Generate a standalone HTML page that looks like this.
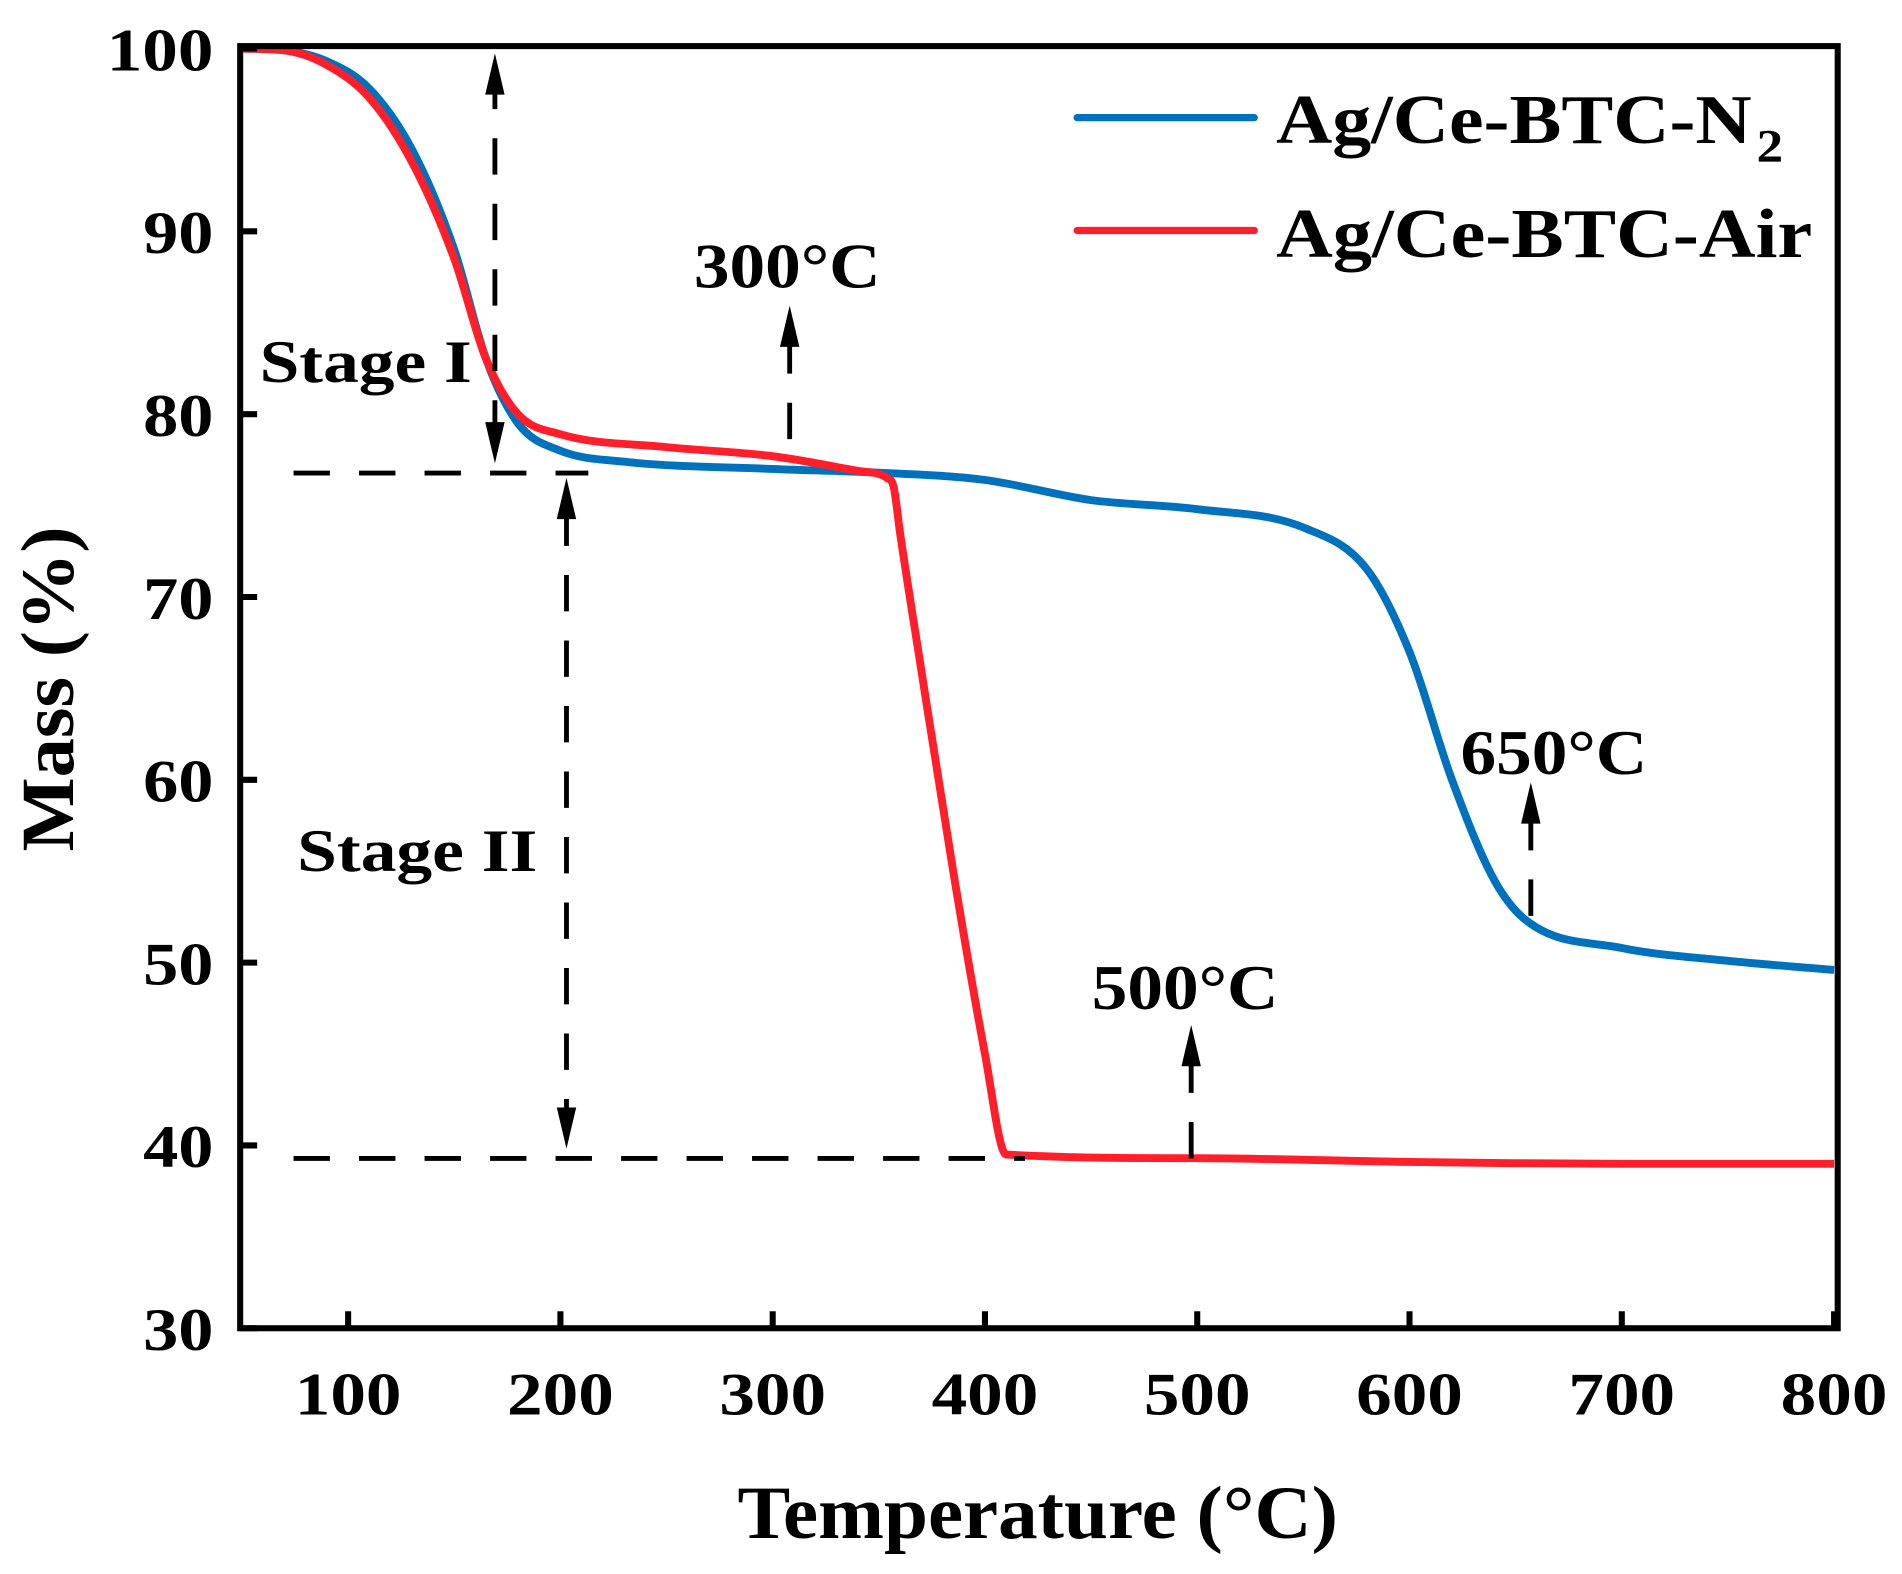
<!DOCTYPE html>
<html><head><meta charset="utf-8"><style>
html,body{margin:0;padding:0;background:#fff;}
svg{display:block;}
text{font-family:"Liberation Serif","Times New Roman",serif;font-weight:bold;fill:#000;}
</style></head><body>
<svg id="chart" width="1902" height="1574" viewBox="0 0 1568 1297.6" preserveAspectRatio="none" xmlns="http://www.w3.org/2000/svg">
<g id="plot"></g>
</svg>
<script>
const xTicks=[100,200,300,400,500,600,700,800];
const yTicks=[30,40,50,60,70,80,90,100];
const n2T=[50,70,90,110,130,150,165,180,200,230,300,350,400,450,500,550,580,600,620,640,655,700,750,800];
const n2M=[100,99.9,99.3,97.8,94.5,89,83,79.5,78,77.4,77,76.8,76.4,75.3,74.8,73.8,71.5,67,60,54.5,52.3,50.8,50.1,49.6];
const airT=[50,70,90,110,130,150,165,180,200,250,300,340,354,357,360,370,385,400,410,500,600,700,800];
const airM=[100,99.9,99.1,97.3,93.8,88.5,83,80,78.9,78.2,77.7,76.9,76.5,76.0,73.5,66,55,45,39.5,39.3,39.1,39.0,39.0];

const NS='http://www.w3.org/2000/svg';
const L=198,R=1515,T=38,B=1095;
function xs(v){return 287+(v-100)*1.75;}
function ys(v){return 1095-(v-30)*(1055/70);}
const g=document.getElementById('plot');
function el(tag,attrs,parent){const e=document.createElementNS(NS,tag);for(const k in attrs)e.setAttribute(k,attrs[k]);(parent||g).appendChild(e);return e;}

// monotone cubic path
function monoPath(px,py){
  const n=px.length,d=[],m=new Array(n);
  for(let i=0;i<n-1;i++)d.push((py[i+1]-py[i])/(px[i+1]-px[i]));
  m[0]=d[0];m[n-1]=d[n-2];
  for(let i=1;i<n-1;i++){m[i]=(d[i-1]*d[i]<=0)?0:(d[i-1]+d[i])/2;}
  for(let i=0;i<n-1;i++){
    if(d[i]===0){m[i]=0;m[i+1]=0;continue;}
    const a=m[i]/d[i],b=m[i+1]/d[i],s=a*a+b*b;
    if(s>9){const t=3/Math.sqrt(s);m[i]=t*a*d[i];m[i+1]=t*b*d[i];}
  }
  let p='M'+px[0].toFixed(1)+','+py[0].toFixed(1);
  for(let i=0;i<n-1;i++){
    const h=(px[i+1]-px[i])/3;
    p+=' C'+(px[i]+h).toFixed(1)+','+(py[i]+m[i]*h).toFixed(1)+' '+(px[i+1]-h).toFixed(1)+','+(py[i+1]-m[i+1]*h).toFixed(1)+' '+px[i+1].toFixed(1)+','+py[i+1].toFixed(1);
  }
  return p;
}
function drawLine(ts,ms,color,name){
  const p=el('path',{d:monoPath(ts.map(xs),ms.map(ys)),fill:'none',stroke:color,'stroke-width':6.5,'stroke-linejoin':'round'});
  
  
}
drawLine(n2T,n2M,'#0072BD','series-n2');
drawLine(airT,airM,'#FF1F2A','series-air');

const fr=el('rect',{x:L,y:T,width:R-L,height:B-T,fill:'none',stroke:'#000','stroke-width':5});



xTicks.forEach(v=>{
  const tk=el('line',{x1:xs(v),x2:xs(v),y1:B,y2:B-14,stroke:'#000','stroke-width':5});
  
  
  const t=el('text',{x:xs(v),y:1166,'font-size':50,'text-anchor':'middle',textLength:88,lengthAdjust:'spacingAndGlyphs'});
  t.textContent=v;
  
  
});
yTicks.forEach(v=>{
  const tk=el('line',{x1:L,x2:L+14,y1:ys(v),y2:ys(v),stroke:'#000','stroke-width':5});
  
  
  const t=el('text',{x:176,y:ys(v)+18,'font-size':50,'text-anchor':'end',textLength:v==100?88:58,lengthAdjust:'spacingAndGlyphs'});
  t.textContent=v;
  
  
});

function txt(s,x,y,size,name,len,extra){
  const t=el('text',Object.assign({x:x,y:y,'font-size':size},extra||{}));
  if(len){t.setAttribute('textLength',len);t.setAttribute('lengthAdjust','spacingAndGlyphs');}
  t.textContent=s;
  
  
  return t;
}
txt('Temperature (°C)',608,1268,62,'x-axis-title',495);
txt('Mass (%)',0,0,62,'y-axis-title',268,{transform:'translate(60,568) rotate(-90)','text-anchor':'middle'});

const l1=el('line',{x1:888,x2:1034,y1:97,y2:97,stroke:'#0072BD','stroke-width':6,'stroke-linecap':'round'});


const l2=el('line',{x1:888,x2:1034,y1:190,y2:190,stroke:'#FF1F2A','stroke-width':6,'stroke-linecap':'round'});


txt('Ag/Ce-BTC-N',1052,118,58,'legend-label-n2',392);
txt('2',1448,133,38,'legend-subscript',22);
txt('Ag/Ce-BTC-Air',1052,212,58,'legend-label-air',442);

function dash(x1,y1,x2,y2,name){
  const e=el('line',{x1:x1,y1:y1,x2:x2,y2:y2,stroke:'#000','stroke-width':4,'stroke-dasharray':'30,24'});
  
  
}
function head(x,y,dir,name){ // dir -1 = up tip at y, 1 = down tip at y
  const h=34,w=8;
  const e=el('polygon',{points:x+','+y+' '+(x-w)+','+(y-dir*h)+' '+(x+w)+','+(y-dir*h),fill:'#000'});
  
  
}
dash(242,390,485,390,'stage-i-level');
dash(242,955,845,955,'stage-ii-level');
dash(408,360,408,75,'stage-i-arrow');
head(408,44,-1,'stage-i-arrowhead-up');head(408,382,1,'stage-i-arrowhead-down');
dash(467,420,467,920,'stage-ii-arrow');
head(467,394,-1,'stage-ii-arrowhead-up');head(467,947,1,'stage-ii-arrowhead-down');
dash(651,362,651,280,'arrow-300');head(651,252,-1,'arrowhead-300');
dash(982,955,982,875,'arrow-500');head(982,845,-1,'arrowhead-500');
dash(1262,755,1262,675,'arrow-650');head(1262,645,-1,'arrowhead-650');
txt('Stage I',214,315,50,'stage-i-label',175);
txt('Stage II',245,718,50,'stage-ii-label',198);
txt('300°C',572,237,52,'label-300c',154);
txt('500°C',900,832,52,'label-500c',154);
txt('650°C',1204,638,52,'label-650c',154);
</script>
</body></html>
